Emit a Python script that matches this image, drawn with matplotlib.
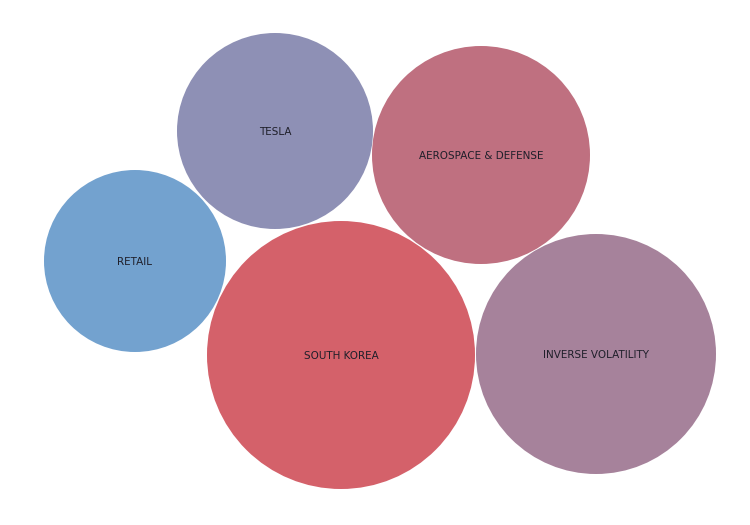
import matplotlib
matplotlib.use("Agg")
import matplotlib.pyplot as plt
from matplotlib.patches import Circle

# bubble data (value drives radius)
labels = ["TESLA", "AEROSPACE & DEFENSE", "RETAIL", "SOUTH KOREA", "INVERSE VOLATILITY"]
values = [98, 109, 91, 134, 120]
colors = ["#8E90B5", "#BF7080", "#73A2CF", "#D4616A", "#A6829B"]

# packed layout centres (pixel space)
cx = [275, 481, 135, 341, 596]
cy = [131, 155, 261, 355, 354]

fig = plt.figure(figsize=(7.5, 5.25), dpi=100)
ax = fig.add_axes([0, 0, 1, 1])
ax.set_xlim(0, 750)
ax.set_ylim(525, 0)
ax.set_aspect("equal")
ax.axis("off")

for lab, v, c, x, y in zip(labels, values, colors, cx, cy):
    ax.add_patch(Circle((x, y), v, facecolor=c, edgecolor="none"))
    ax.text(x, y + 1, lab, ha="center", va="center", fontsize=7.5,
            family=["DejaVu Sans"], color="#1f1f2a")

fig.savefig("out.png", dpi=100)
